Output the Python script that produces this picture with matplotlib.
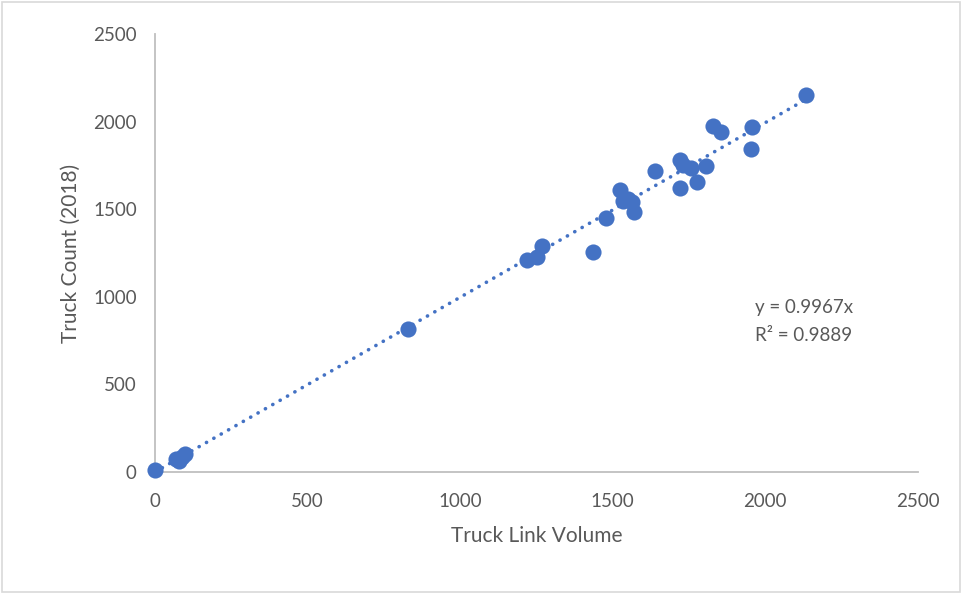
import matplotlib
matplotlib.use("Agg")
import matplotlib.pyplot as plt
from matplotlib.patches import Rectangle
import numpy as np

plt.rcParams['font.family'] = ['Lato', 'DejaVu Sans']

link_volume = [0, 70, 80, 90, 100, 830, 1219, 1251, 1269, 1435, 1480, 1524, 1535, 1550,
               1562, 1569, 1640, 1720, 1731, 1758, 1720, 1778, 1807, 1829, 1855, 1957,
               1955, 2135]
truck_count = [10, 75, 60, 85, 105, 815, 1210, 1229, 1290, 1257, 1450, 1610, 1545, 1560,
               1543, 1486, 1720, 1781, 1752, 1733, 1619, 1655, 1748, 1976, 1939, 1969,
               1844, 2152]
slope = 0.9967
r2 = 0.9889
ticks = [0, 500, 1000, 1500, 2000, 2500]

blue = '#4472C4'
gray_text = '#595959'
axis_gray = '#BFBFBF'

fig = plt.figure(figsize=(9.62, 5.94), dpi=100)
ax = fig.add_axes([0.161, 0.2054, 0.793, 0.7374])

ax.scatter(link_volume, truck_count, s=135, color=blue, zorder=3, linewidths=0,
           clip_on=False)
xt = np.array([0, max(link_volume)])
ax.plot(xt, slope * xt, linestyle=(0, (0.05, 2.3)), color=blue, linewidth=2.6,
        dash_capstyle='round', zorder=2)

ax.set_xlim(0, 2500)
ax.set_ylim(0, 2500)
ax.set_xticks(ticks)
ax.set_yticks(ticks)
ax.tick_params(length=0, labelsize=13.5, labelcolor=gray_text)
ax.tick_params(axis='x', pad=15)
ax.tick_params(axis='y', pad=13)

for s in ['top', 'right']:
    ax.spines[s].set_visible(False)
ax.spines['left'].set_color(axis_gray)
ax.spines['bottom'].set_color(axis_gray)
ax.spines['left'].set_linewidth(1.3)
ax.spines['bottom'].set_linewidth(1.3)

ax.set_xlabel('Truck Link Volume', fontsize=15, color=gray_text, labelpad=12)
ax.set_ylabel('Truck Count (2018)', fontsize=15, color=gray_text, labelpad=9)

ax.text(1966, 936, f'y = {slope}x', fontsize=13.5, color=gray_text, va='center')
ax.text(1966, 780, f'R² = {r2}', fontsize=13.5, color=gray_text, va='center')

fig.patches.append(Rectangle((0.002, 0.003), 0.996, 0.994, transform=fig.transFigure,
                             fill=False, edgecolor='#D9D9D9', linewidth=1.2))

fig.savefig('out.png', dpi=100)
